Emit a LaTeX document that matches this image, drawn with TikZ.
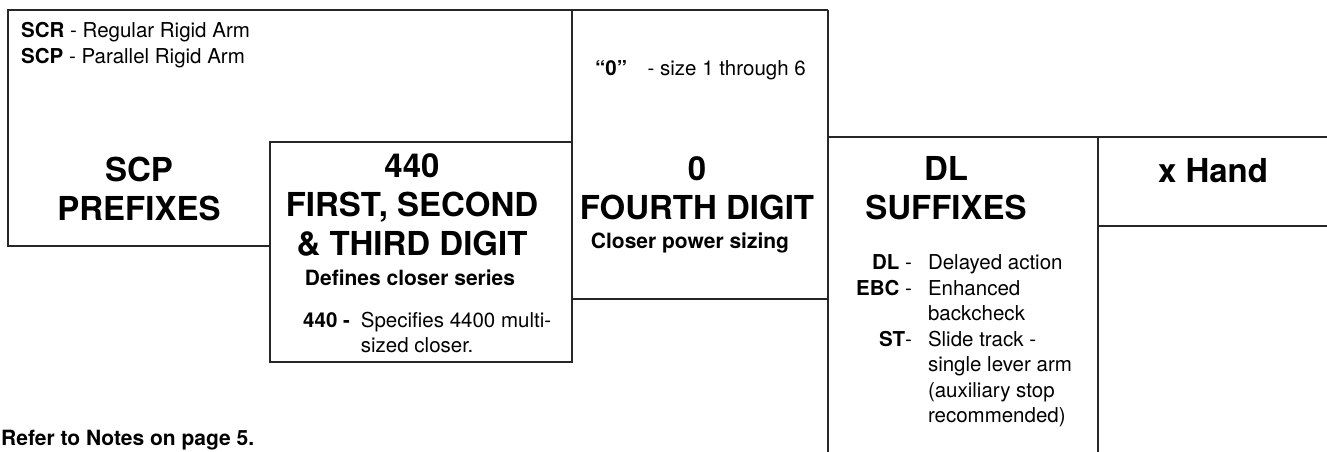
\documentclass[tikz,border=0pt]{standalone}
\usepackage{fontspec}
\setmainfont{TeX Gyre Heros}
\begin{document}
\begin{tikzpicture}
  [x=1pt,y=-1pt,
   rule/.style={draw=black!85,line width=1.4pt},
   title/.style={font=\fontsize{33}{39}\selectfont\bfseries,align=center,inner sep=0pt},
   sub/.style={font=\fontsize{21}{25}\selectfont\bfseries,inner sep=0pt},
   note/.style={font=\fontsize{20.5}{25.5}\selectfont,inner sep=0pt}]

  \useasboundingbox (0,0) rectangle (1327,452);

  % Lineas de las casillas
  \draw[rule] (270,246) -- (8,246) -- (8,10) -- (828,10);
  \draw[rule] (270,142) rectangle (572,362);
  \draw[rule] (572,10) -- (572,142);
  \draw[rule] (572,299) -- (828,299);
  \draw[rule] (828,10) -- (828,452);
  \draw[rule] (828,137) -- (1327,137);
  \draw[rule] (1098,137) -- (1098,452);
  \draw[rule] (1098,226) -- (1327,226);

  % Prefijos
  \node[note,align=left,anchor=west] (prelist) at (21,45)
    {\textbf{SCR} - Regular Rigid Arm\\\textbf{SCP} - Parallel Rigid Arm};
  \node[title] (pre) at (139,189) {SCP\\PREFIXES};

  % Primer, segundo y tercer digito
  \node[title] (dig) at (412,205) {440\\FIRST, SECOND\\\& THIRD DIGIT};
  \node[sub] (digsub) at (410,278) {Defines closer series};
  \node[note,anchor=west] (diglist) at (303,335)
    {\begin{tabular}{@{}l@{\hspace{11pt}}l@{}}
      \textbf{440 -} & Specifies 4400 multi-\\
                     & sized closer.
     \end{tabular}};

  % Cuarto digito
  \node[note,anchor=west] (size) at (595,70) {\textbf{“0”}\quad - size 1 through 6};
  \node[title] (fourth) at (697,188) {0\\FOURTH DIGIT};
  \node[sub] (fourthsub) at (690,243) {Closer power sizing};

  % Sufijos
  \node[title] (suf) at (946,188) {DL\\SUFFIXES};
  \node[note,anchor=west] (suflist) at (856,341)
    {\begin{tabular}{@{}r@{\hspace{16pt}}l@{}}
      \textbf{DL} -  & Delayed action\\
      \textbf{EBC} - & Enhanced\\
                     & backcheck\\
      \textbf{ST}-   & Slide track -\\
                     & single lever arm\\
                     & (auxiliary stop\\
                     & recommended)
     \end{tabular}};

  % Mano
  \node[title] (hand) at (1213,171) {x Hand};

  % Nota al pie
  \node[note,font=\fontsize{21}{25}\selectfont\bfseries,anchor=west] (refer) at (1,440)
    {Refer to Notes on page 5.};

\end{tikzpicture}
\end{document}
